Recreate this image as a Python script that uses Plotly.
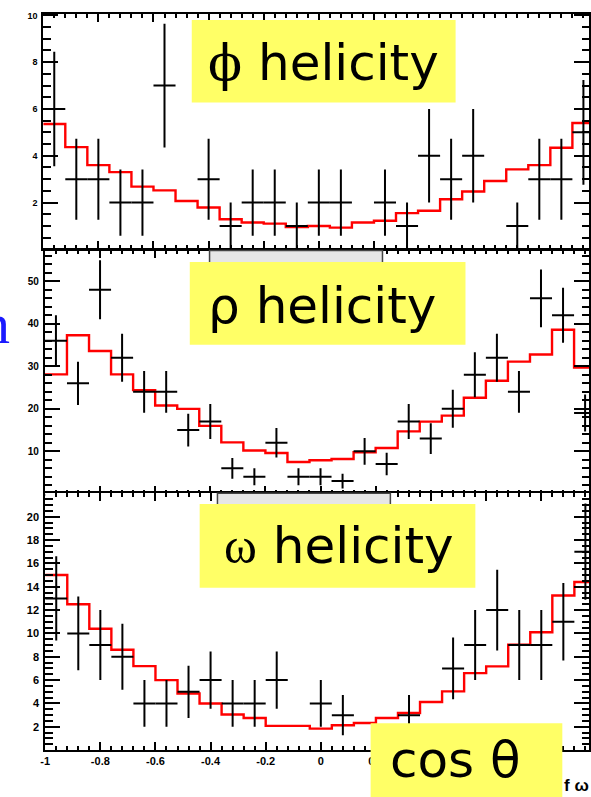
import numpy as np
import plotly.graph_objects as go

# cos(theta) binning: 25 bins over [-1, 1]
n_bins = 25
edges = np.linspace(-1.0, 1.0, n_bins + 1)
centers = 0.5 * (edges[:-1] + edges[1:])
half_width = 0.5 * (edges[1] - edges[0])

# phi helicity: observed counts and fitted shape
phi_counts = [6, 3, 3, 2, 2, 7, 0, 3, 1, 2, 2, 1, 2, 2, 0, 2, 1, 4, 3, 4, 0, 1, 3, 3, 5]
phi_fit = [5.36, 4.37, 3.60, 3.30, 2.68, 2.52, 2.07, 1.79, 1.29, 1.15, 1.10, 0.95, 1.00,
           0.93, 1.15, 1.22, 1.55, 1.65, 2.14, 2.47, 2.92, 3.42, 3.60, 4.34, 5.40]

# rho helicity
rho_counts = [36, 26, 48, 32, 24, 24, 15, 17, 6, 4, 12, 4, 4, 3, 10, 7, 17, 13, 20, 28,
              32, 24, 46, 42, 19]
rho_fit = [28.1, 37.3, 33.6, 28.1, 24.4, 20.8, 20.0, 16.0, 12.1, 10.2, 9.6, 7.5, 7.9, 8.2,
           9.8, 10.8, 14.7, 17.0, 18.4, 22.6, 26.6, 31.1, 32.8, 38.6, 29.7]

# omega helicity
omega_counts = [13, 10, 9, 8, 4, 4, 5, 6, 4, 4, 6, 0, 4, 3, 0, 1, 3, 0, 7, 9, 12, 9, 9, 11, 17]
omega_fit = [15.0, 12.5, 10.4, 8.6, 7.2, 6.0, 4.85, 4.0, 3.05, 2.76, 2.08, 2.08, 1.85, 2.14,
             2.33, 2.75, 3.19, 4.13, 5.04, 6.6, 7.18, 9.03, 10.1, 13.25, 14.4]

x_tick_vals = [-1, -0.8, -0.6, -0.4, -0.2, 0, 0.2, 0.4, 0.6, 0.8, 1]
x_tick_text = ["-1", "-0.8", "-0.6", "-0.4", "-0.2", "0", "0.2", "", "", "", ""]

W, H = 591, 797


def px_x(p):
    return p / W


def px_y(p):
    return 1 - p / H


panels = [
    dict(counts=phi_counts, fit=phi_fit, left=38.7, top=11, zero=247.3, ymax=10.06,
         ymaj=2, ymin=0.5, fs=9, xlabels=False, hide_top_label=False),
    dict(counts=rho_counts, fit=rho_fit, left=40.4, top=248, zero=492.7, ymax=57.35,
         ymaj=10, ymin=2, fs=10, xlabels=False, hide_top_label=False),
    dict(counts=omega_counts, fit=omega_fit, left=40.7, top=491.7, zero=750, ymax=22.04,
         ymaj=2, ymin=0.5, fs=11, xlabels=True, hide_top_label=True),
]
px_per_unit = 278.9

fig = go.Figure()
layout = dict(
    width=W, height=H, margin=dict(l=0, r=0, t=0, b=0),
    paper_bgcolor="white", plot_bgcolor="white", showlegend=False,
)

for i, p in enumerate(panels, start=1):
    xa = "x" if i == 1 else f"x{i}"
    ya = "y" if i == 1 else f"y{i}"
    counts = np.array(p["counts"], dtype=float)
    fit = np.array(p["fit"], dtype=float)

    # fitted distribution as a step histogram
    fig.add_trace(go.Scatter(
        x=edges, y=np.append(fit, fit[-1]), mode="lines", line_shape="hv",
        line=dict(color="#ff0000", width=2.4), xaxis=xa, yaxis=ya, hoverinfo="skip",
    ))
    # data points with Poisson errors (empty bins are not drawn)
    keep = counts > 0
    fig.add_trace(go.Scatter(
        x=centers[keep], y=counts[keep], mode="markers",
        marker=dict(size=1, color="black"),
        error_y=dict(type="data", array=np.sqrt(counts[keep]), color="black",
                     thickness=2, width=0),
        error_x=dict(type="constant", value=half_width, color="black",
                     thickness=2, width=0),
        xaxis=xa, yaxis=ya,
    ))

    x_right = -1 + (W - p["left"]) / px_per_unit
    xkey = "xaxis" if i == 1 else f"xaxis{i}"
    ykey = "yaxis" if i == 1 else f"yaxis{i}"
    tickfont = dict(family="Liberation Sans, Arial", size=p["fs"], color="black",
                    weight="bold")
    layout[xkey] = dict(
        domain=[px_x(p["left"]), 1], range=[-1, x_right], anchor=ya,
        showline=True, linewidth=2, linecolor="black", mirror="allticks",
        ticks="inside", ticklen=8, tickwidth=1.8, tickcolor="black",
        tickmode="array", tickvals=x_tick_vals, ticktext=x_tick_text,
        showticklabels=p["xlabels"], tickfont=tickfont,
        minor=dict(ticks="inside", ticklen=4, tickwidth=1.5, tickcolor="black",
                   tickmode="linear", tick0=-1, dtick=0.04, showgrid=False),
        showgrid=False, zeroline=False,
    )
    yvals = list(np.arange(0, p["ymax"] + 1e-9, p["ymaj"]))
    ytext = [("" if v == 0 else f"{v:g}") for v in yvals]
    if p["hide_top_label"]:
        ytext[-1] = ""
    layout[ykey] = dict(
        domain=[px_y(p["zero"]), px_y(p["top"])], range=[0, p["ymax"]], anchor=xa,
        showline=True, linewidth=2, linecolor="black", mirror="allticks",
        ticks="inside", ticklen=15, tickwidth=1.8, tickcolor="black",
        tickmode="array", tickvals=yvals, ticktext=ytext, tickfont=tickfont,
        ticklabelstandoff=2,
        minor=dict(ticks="inside", ticklen=7.5, tickwidth=1.5, tickcolor="black",
                   tickmode="linear", tick0=0, dtick=p["ymin"], showgrid=False),
        showgrid=False, zeroline=False,
    )

yellow = "#ffff66"
shapes = [
    # grey title boxes peeking out above the labels
    dict(type="rect", xref="paper", yref="paper", x0=px_x(207), x1=px_x(382),
         y0=px_y(262), y1=px_y(248.5), fillcolor="#e6e6e6",
         line=dict(color="#444444", width=1.5), layer="above"),
    dict(type="rect", xref="paper", yref="paper", x0=px_x(215), x1=px_x(390),
         y0=px_y(505), y1=px_y(492), fillcolor="#e6e6e6",
         line=dict(color="#444444", width=1.5), layer="above"),
    # yellow label boxes
    dict(type="rect", xref="paper", yref="paper", x0=px_x(189), x1=px_x(456),
         y0=px_y(100), y1=px_y(17), fillcolor=yellow, line=dict(width=0), layer="above"),
    dict(type="rect", xref="paper", yref="paper", x0=px_x(187), x1=px_x(466),
         y0=px_y(343), y1=px_y(260), fillcolor=yellow, line=dict(width=0), layer="above"),
    dict(type="rect", xref="paper", yref="paper", x0=px_x(197), x1=px_x(476),
         y0=px_y(587), y1=px_y(503), fillcolor=yellow, line=dict(width=0), layer="above"),
    dict(type="rect", xref="paper", yref="paper", x0=px_x(370), x1=px_x(564),
         y0=px_y(800), y1=px_y(723), fillcolor=yellow, line=dict(width=0), layer="above"),
]
layout["shapes"] = shapes

label_font = dict(family="DejaVu Sans", size=50, color="black")
serif = "font-family:'DejaVu Serif','Liberation Serif'"
annotations = [
    dict(text=f"<span style=\"{serif}\">ϕ</span> helicity", x=px_x(322), y=px_y(60)),
    dict(text="ρ helicity", x=px_x(321), y=px_y(304)),
    dict(text=f"<span style=\"font-family:'Liberation Serif'\">ω</span> helicity",
         x=px_x(338), y=px_y(545)),
    dict(text="cos θ", x=px_x(456), y=px_y(760), font=dict(family="DejaVu Sans", size=50,
                                                           color="black")),
]
for a in annotations:
    a.update(xref="paper", yref="paper", xanchor="center", yanchor="middle",
             showarrow=False)
    a.setdefault("font", label_font)
annotations.append(dict(text="f ω", x=px_x(564), y=px_y(785), xref="paper", yref="paper",
                        xanchor="left", yanchor="middle", showarrow=False,
                        font=dict(family="Liberation Sans, Arial", size=17, color="black",
                                  weight="bold")))
annotations.append(dict(text="n", x=px_x(7), y=px_y(322), xref="paper", yref="paper",
                        xanchor="right", yanchor="middle", showarrow=False,
                        font=dict(family="Liberation Serif", size=58, color="#1a1aff")))
layout["annotations"] = annotations

fig.update_layout(**layout)
fig.write_html("out.html")
